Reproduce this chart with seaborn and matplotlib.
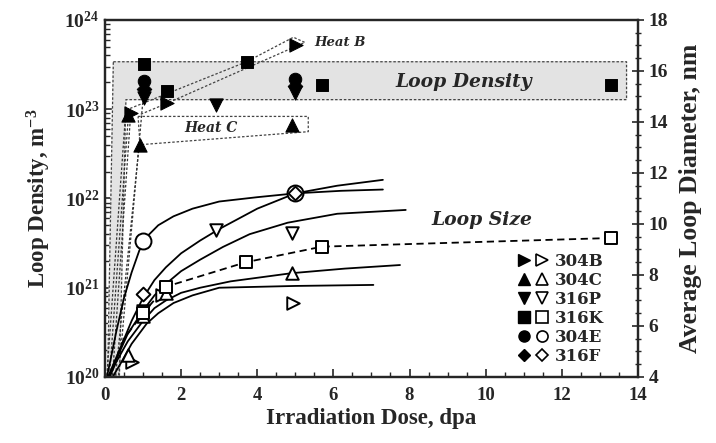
import math
import matplotlib
matplotlib.use("Agg")
import matplotlib.pyplot as plt
from matplotlib.legend_handler import HandlerTuple
from matplotlib.lines import Line2D
from matplotlib.ticker import MultipleLocator, LogLocator, FixedLocator, FuncFormatter, NullFormatter
import seaborn as sns

# ---- loop density, filled markers (left axis, m^-3) ----
dens_304B_x = [0.68, 1.64, 5.03]
dens_304B_y = [9.0e22, 1.17e23, 5.2e23]
dens_304C_x = [0.6, 0.92, 4.92]
dens_304C_y = [8.7e22, 4.0e22, 6.6e22]
dens_316P_x = [1.03, 2.92, 5.0]
dens_316P_y = [1.35e23, 1.12e23, 1.5e23]
dens_316K_x = [1.03, 1.64, 3.72, 5.71, 13.3]
dens_316K_y = [3.2e23, 1.6e23, 3.4e23, 1.85e23, 1.85e23]
dens_304E_x = [1.03, 5.0]
dens_304E_y = [2.05e23, 2.2e23]
dens_316F_x = [1.03, 5.0]
dens_316F_y = [1.7e23, 1.8e23]

# ---- loop size, open markers (right axis, nm) ----
size_304B_x = [0.7, 1.5, 4.95]
size_304B_y = [4.6, 7.2, 6.9]
size_304C_x = [0.6, 1.0, 1.6, 4.92]
size_304C_y = [4.85, 6.4, 7.3, 8.07]
size_316P_x = [1.0, 2.92, 4.92]
size_316P_y = [6.6, 9.76, 9.63]
size_316K_x = [1.0, 1.6, 3.7, 5.7, 13.3]
size_316K_y = [6.5, 7.54, 8.5, 9.11, 9.45]
size_304E_x = [1.0, 5.0]
size_304E_y = [9.35, 11.2]
size_316F_x = [1.0, 5.0]
size_316F_y = [7.25, 11.2]

# ---- fitted loop size curves ----
fit_304E_x = [0.05, 0.15, 0.3, 0.5, 0.7, 0.9, 1.1, 1.4, 1.8, 2.3, 3.0, 4.0, 5.0, 6.2, 7.3]
fit_304E_y = [4.0, 4.7, 5.8, 7.1, 8.1, 8.95, 9.5, 9.95, 10.3, 10.6, 10.88, 11.05, 11.2, 11.3, 11.35]
fit_316P_x = [0.08, 0.25, 0.45, 0.7, 1.0, 1.3, 1.6, 2.0, 2.5, 3.0, 3.5, 4.0, 5.0, 6.1, 7.3]
fit_316P_y = [4.0, 4.6, 5.3, 6.2, 7.1, 7.8, 8.3, 8.85, 9.35, 9.8, 10.2, 10.6, 11.2, 11.5, 11.73]
fit_316F_x = [0.1, 0.3, 0.6, 1.0, 1.3, 1.6, 2.0, 2.5, 3.1, 3.8, 4.8, 6.1, 7.9]
fit_316F_y = [4.0, 4.7, 5.7, 6.6, 7.2, 7.65, 8.15, 8.6, 9.1, 9.6, 10.05, 10.4, 10.55]
fit_316K_x = [0.1, 0.5, 1.0, 1.6, 3.7, 5.7, 13.3]
fit_316K_y = [4.0, 5.5, 6.5, 7.54, 8.5, 9.11, 9.45]
fit_304C_x = [0.12, 0.3, 0.6, 1.0, 1.3, 1.6, 2.0, 2.5, 3.3, 4.9, 6.3, 7.75]
fit_304C_y = [4.0, 4.6, 5.4, 6.2, 6.7, 7.0, 7.3, 7.5, 7.75, 8.07, 8.25, 8.39]
fit_304B_x = [0.2, 0.4, 0.7, 1.1, 1.4, 1.8, 2.3, 3.0, 5.0, 7.05]
fit_304B_y = [4.0, 4.5, 5.3, 6.1, 6.5, 6.9, 7.2, 7.5, 7.57, 7.61]

# ---- dashed guide shapes on the density axis ----
band_x = [0.22, 13.7, 13.7, 0.55, 0.38, 0.07, 0.22]
band_y = [3.4e23, 3.4e23, 1.28e23, 1.28e23, 1.05e20, 1.05e20, 3.4e23]
fan_x0 = [0.05, 0.12, 0.2, 0.28, 0.36]
fan_x1 = [0.55, 0.62, 0.68, 0.9, 1.0]
fan_y1 = [1.0e23, 9.0e22, 9.5e22, 4.0e22, 1.3e23]
heatB_x = [0.66, 3.72, 4.95, 5.25, 1.64, 0.92]
heatB_y = [1.02e23, 3.4e23, 6.4e23, 5.6e23, 1.17e23, 8.7e22]
heatC_x = [0.87, 5.34, 5.34, 0.92, 0.87]
heatC_y = [8.3e22, 8.3e22, 5.6e22, 4.0e22, 8.3e22]

sns.set_style("ticks")
plt.rcParams["font.family"] = ["Liberation Serif", "DejaVu Serif"]
plt.rcParams["font.weight"] = "bold"
plt.rcParams["mathtext.fontset"] = "custom"
plt.rcParams["mathtext.rm"] = "Liberation Serif:bold"
plt.rcParams["mathtext.default"] = "rm"

fig = plt.figure(figsize=(7.16, 4.43), dpi=100)
ax = fig.add_axes([0.1466, 0.149, 0.7444, 0.806])
ax2 = ax.twinx()

ax.set_yscale("log")
ax.set_xlim(0, 14)
ax.set_ylim(1e20, 1e24)
ax2.set_ylim(4, 18)

# grey band and dashed outlines
dash = (0, (2, 1.5))
ax.fill(band_x, band_y, color="#e3e3e3", zorder=1)
ax.plot(band_x, band_y, ls=dash, color="#444444", lw=0.9, zorder=2)
for x0, x1, y1 in zip(fan_x0, fan_x1, fan_y1):
    ax.plot([x0, x1], [1.05e20, y1], ls=dash, color="#333333", lw=0.9, zorder=2)
ax.plot(heatB_x, heatB_y, ls=dash, color="#444444", lw=0.9, zorder=2)
ax.plot(heatC_x, heatC_y, ls=dash, color="#444444", lw=0.9, zorder=2)

# density points
dens = [
    (dens_304B_x, dens_304B_y, ">", 9.5),
    (dens_304C_x, dens_304C_y, "^", 9.5),
    (dens_316P_x, dens_316P_y, "v", 9.5),
    (dens_316K_x, dens_316K_y, "s", 8.5),
    (dens_304E_x, dens_304E_y, "o", 9),
    (dens_316F_x, dens_316F_y, "D", 7.5),
]
for xs, ys, m, ms in dens:
    sns.scatterplot(x=xs, y=ys, marker=m, s=ms ** 2, color="black",
                    edgecolor="black", ax=ax, zorder=4, legend=False)

# loop size curves
for xs, ys in [(fit_304E_x, fit_304E_y), (fit_316P_x, fit_316P_y), (fit_316F_x, fit_316F_y),
               (fit_304C_x, fit_304C_y), (fit_304B_x, fit_304B_y)]:
    sns.lineplot(x=xs, y=ys, sort=False, estimator=None, color="black", lw=1.3, ax=ax2)
sns.lineplot(x=fit_316K_x, y=fit_316K_y, sort=False, estimator=None, color="black",
             lw=1.3, ls=(0, (4, 2.5)), ax=ax2)

size = [
    (size_304B_x, size_304B_y, ">", 9),
    (size_304C_x, size_304C_y, "^", 9),
    (size_316P_x, size_316P_y, "v", 9),
    (size_316K_x, size_316K_y, "s", 8),
    (size_304E_x, size_304E_y, "o", 11.5),
    (size_316F_x, size_316F_y, "D", 7),
]
for xs, ys, m, ms in size:
    sns.scatterplot(x=xs, y=ys, marker=m, s=ms ** 2, facecolor="white",
                    edgecolor="black", linewidth=1.4, ax=ax2, zorder=4, legend=False)

# labels in the plot
tfont = dict(family="DejaVu Serif", style="italic", weight="bold")
ax.text(5.5, 5.6e23, "Heat B", fontsize=9.5, ha="left", va="center", **tfont)
ax.text(2.78, 6.2e22, "Heat C", fontsize=10, ha="center", va="center", **tfont)
ax.text(9.43, 2.0e23, "Loop Density", fontsize=13.5, ha="center", va="center", **tfont)
ax.text(9.9, 5.8e21, "Loop Size", fontsize=13.5, ha="center", va="center", **tfont)

# axes and ticks
ax.xaxis.set_major_locator(MultipleLocator(2))
ax.xaxis.set_minor_locator(MultipleLocator(0.5))
ax.yaxis.set_major_locator(FixedLocator([1e20, 1e21, 1e22, 1e23, 1e24]))
ax.yaxis.set_major_formatter(FuncFormatter(lambda v, p: r"$10^{%d}$" % round(math.log10(v))))
ax.yaxis.set_minor_locator(LogLocator(base=10, subs=range(2, 10), numticks=20))
ax.yaxis.set_minor_formatter(NullFormatter())
ax2.yaxis.set_major_locator(MultipleLocator(2))
ax2.yaxis.set_minor_locator(MultipleLocator(0.5))

ax.tick_params(axis="both", which="major", direction="in", length=6, width=1.2, labelsize=13.5)
ax.tick_params(axis="both", which="minor", direction="in", length=3.5, width=1)
ax.tick_params(axis="x", pad=7)
ax.tick_params(axis="y", pad=4, labelsize=14)
ax2.tick_params(axis="y", which="major", direction="inout", length=8, width=1.2, labelsize=14)
ax2.tick_params(axis="y", which="minor", direction="inout", length=5, width=1)
for a in (ax, ax2):
    for sp in a.spines.values():
        sp.set_linewidth(1.6)
        sp.set_visible(True)

ax.set_xlabel("Irradiation Dose, dpa", fontsize=16.5, fontweight="bold", labelpad=3)
ax.set_ylabel(r"Loop Density, m$^{-3}$", fontsize=16.5, fontweight="bold", labelpad=8)
ax2.set_ylabel("Average Loop Diameter, nm", fontsize=18.5, fontweight="bold", labelpad=8)

# legend: filled + open marker pairs
names = ["304B", "304C", "316P", "316K", "304E", "316F"]
marks = [">", "^", "v", "s", "o", "D"]
handles = []
for m in marks:
    ms = 6.5 if m == "D" else 8
    full = Line2D([], [], ls="none", marker=m, ms=ms, color="black")
    hollow = Line2D([], [], ls="none", marker=m, ms=ms, mfc="white", mec="black", mew=1.2)
    handles.append((full, hollow))
ax2.legend(handles, names, handler_map={tuple: HandlerTuple(ndivide=None, pad=0.2)},
           loc="center left", bbox_to_anchor=(0.745, 0.19), frameon=False,
           handlelength=1.9, handletextpad=0.35, labelspacing=0.12,
           prop=dict(family="DejaVu Serif", size=12))

fig.savefig("out.png", dpi=100)
